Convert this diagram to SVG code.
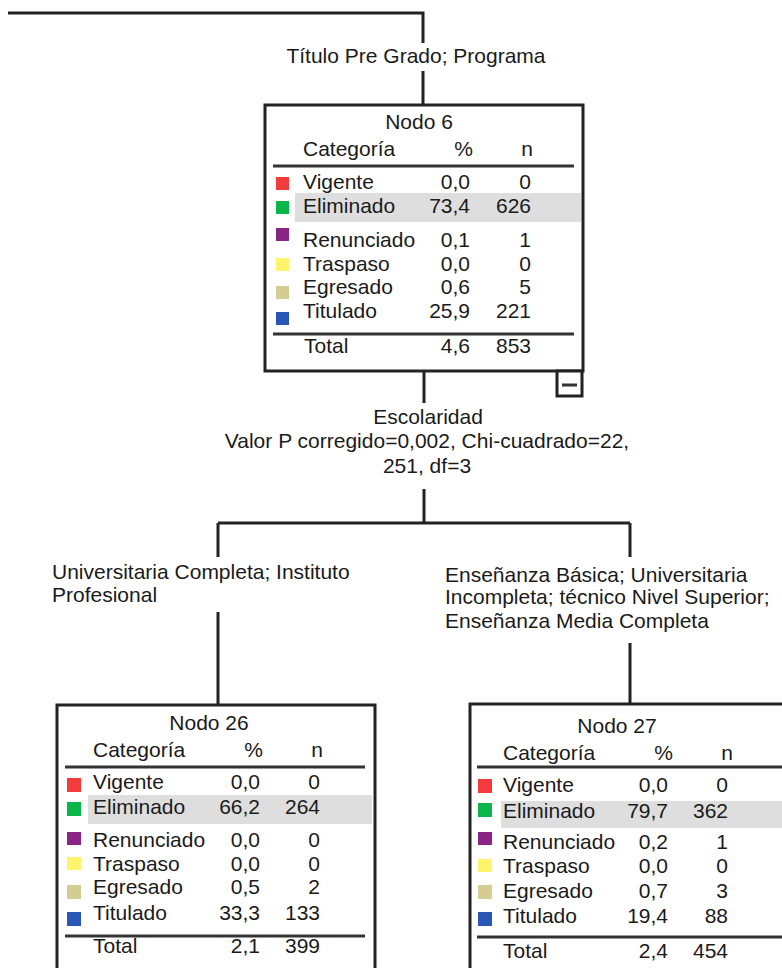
<svg xmlns="http://www.w3.org/2000/svg" width="782" height="968" viewBox="0 0 782 968">
<style>
text{font-family:"Liberation Sans",Arial,sans-serif;font-size:21px;fill:#1a1a1a}
.e{text-anchor:end}
.m{text-anchor:middle}
.ln{stroke:#222;stroke-width:3;fill:none}
.box{stroke:#222;stroke-width:3;fill:#fff}
.rule{stroke:#333;stroke-width:3}
.hl{fill:#dedede}
.red{fill:#f33b3b}.grn{fill:#0ab54a}.pur{fill:#8b2585}.yel{fill:#fdf46a}.tan{fill:#d4cc93}.blu{fill:#2a56b5}
</style>
<g id="connectors">
<path class="ln" d="M8 13H423V43M423 71V105"/>
<path class="ln" d="M424 371V403M424 489V523M218 523H630M218 523V557M630 523V557M218 612V705M630 643V704"/>
</g>
<g id="labels">
<text class="m" x="416" y="63">Título Pre Grado; Programa</text>
<text class="m" x="428" y="424">Escolaridad</text>
<text class="m" x="427" y="448">Valor P corregido=0,002, Chi-cuadrado=22,</text>
<text class="m" x="427" y="473">251, df=3</text>
<text x="52" y="579">Universitaria Completa; Instituto</text>
<text x="52" y="602">Profesional</text>
<text x="445" y="582">Enseñanza Básica; Universitaria</text>
<text x="445" y="604">Incompleta; técnico Nivel Superior;</text>
<text x="445" y="628">Enseñanza Media Completa</text>
</g>
<g id="node6">
<rect class="box" x="265" y="105" width="318" height="266"/>
<rect class="hl" x="295" y="193" width="286" height="29"/>
<text class="m" x="419" y="129">Nodo 6</text>
<text x="303" y="156">Categoría</text><text class="e" x="473" y="156">%</text><text class="e" x="533" y="156">n</text>
<line class="rule" x1="273" y1="166" x2="574" y2="166"/>
<rect class="red" x="276" y="177" width="13" height="13"/>
<rect class="grn" x="276" y="201" width="13" height="13"/>
<rect class="pur" x="276" y="228" width="13" height="13"/>
<rect class="yel" x="276" y="258" width="13" height="13"/>
<rect class="tan" x="276" y="286" width="13" height="13"/>
<rect class="blu" x="276" y="312" width="13" height="13"/>
<text x="303" y="189">Vigente</text><text class="e" x="470" y="189">0,0</text><text class="e" x="531" y="189">0</text>
<text x="303" y="213">Eliminado</text><text class="e" x="470" y="213">73,4</text><text class="e" x="531" y="213">626</text>
<text x="303" y="247">Renunciado</text><text class="e" x="470" y="247">0,1</text><text class="e" x="531" y="247">1</text>
<text x="303" y="271">Traspaso</text><text class="e" x="470" y="271">0,0</text><text class="e" x="531" y="271">0</text>
<text x="303" y="294">Egresado</text><text class="e" x="470" y="294">0,6</text><text class="e" x="531" y="294">5</text>
<text x="303" y="318">Titulado</text><text class="e" x="470" y="318">25,9</text><text class="e" x="531" y="318">221</text>
<line class="rule" x1="273" y1="334" x2="574" y2="334"/>
<text x="304" y="353">Total</text><text class="e" x="470" y="353">4,6</text><text class="e" x="531" y="353">853</text>
<rect class="box" x="557" y="371" width="25" height="25"/>
<line class="rule" x1="562" y1="385" x2="577" y2="385"/>
</g>
<g id="node26">
<rect class="box" x="57" y="705" width="318" height="280"/>
<rect class="hl" x="88" y="795" width="284" height="29"/>
<text class="m" x="209" y="730">Nodo 26</text>
<text x="93" y="757">Categoría</text><text class="e" x="263" y="757">%</text><text class="e" x="323" y="757">n</text>
<line class="rule" x1="65" y1="767" x2="365" y2="767"/>
<rect class="red" x="67" y="778" width="14" height="14"/>
<rect class="grn" x="67" y="802" width="14" height="14"/>
<rect class="pur" x="67" y="832" width="14" height="13"/>
<rect class="yel" x="67" y="857" width="14" height="13"/>
<rect class="tan" x="67" y="885" width="14" height="14"/>
<rect class="blu" x="67" y="912" width="14" height="14"/>
<text x="93" y="789">Vigente</text><text class="e" x="260" y="789">0,0</text><text class="e" x="320" y="789">0</text>
<text x="93" y="814">Eliminado</text><text class="e" x="260" y="814">66,2</text><text class="e" x="320" y="814">264</text>
<text x="93" y="847">Renunciado</text><text class="e" x="260" y="847">0,0</text><text class="e" x="320" y="847">0</text>
<text x="93" y="871">Traspaso</text><text class="e" x="260" y="871">0,0</text><text class="e" x="320" y="871">0</text>
<text x="93" y="894">Egresado</text><text class="e" x="260" y="894">0,5</text><text class="e" x="320" y="894">2</text>
<text x="93" y="920">Titulado</text><text class="e" x="260" y="920">33,3</text><text class="e" x="320" y="920">133</text>
<line class="rule" x1="65" y1="936" x2="365" y2="936"/>
<text x="93" y="953">Total</text><text class="e" x="260" y="953">2,1</text><text class="e" x="320" y="953">399</text>
</g>
<g id="node27">
<rect class="box" x="470" y="704" width="330" height="280"/>
<rect class="hl" x="501" y="801" width="290" height="27"/>
<text class="m" x="617" y="733">Nodo 27</text>
<text x="503" y="760">Categoría</text><text class="e" x="673" y="760">%</text><text class="e" x="733" y="760">n</text>
<line class="rule" x1="477" y1="767" x2="790" y2="767"/>
<rect class="red" x="478" y="779" width="14" height="14"/>
<rect class="grn" x="478" y="803" width="14" height="14"/>
<rect class="pur" x="478" y="832" width="14" height="13"/>
<rect class="yel" x="478" y="859" width="14" height="13"/>
<rect class="tan" x="478" y="885" width="14" height="14"/>
<rect class="blu" x="478" y="912" width="14" height="14"/>
<text x="503" y="792">Vigente</text><text class="e" x="668" y="792">0,0</text><text class="e" x="728" y="792">0</text>
<text x="503" y="818">Eliminado</text><text class="e" x="668" y="818">79,7</text><text class="e" x="728" y="818">362</text>
<text x="503" y="849">Renunciado</text><text class="e" x="668" y="849">0,2</text><text class="e" x="728" y="849">1</text>
<text x="503" y="873">Traspaso</text><text class="e" x="668" y="873">0,0</text><text class="e" x="728" y="873">0</text>
<text x="503" y="898">Egresado</text><text class="e" x="668" y="898">0,7</text><text class="e" x="728" y="898">3</text>
<text x="503" y="923">Titulado</text><text class="e" x="668" y="923">19,4</text><text class="e" x="728" y="923">88</text>
<line class="rule" x1="477" y1="937" x2="790" y2="937"/>
<text x="503" y="958">Total</text><text class="e" x="668" y="958">2,4</text><text class="e" x="728" y="958">454</text>
</g>
</svg>
